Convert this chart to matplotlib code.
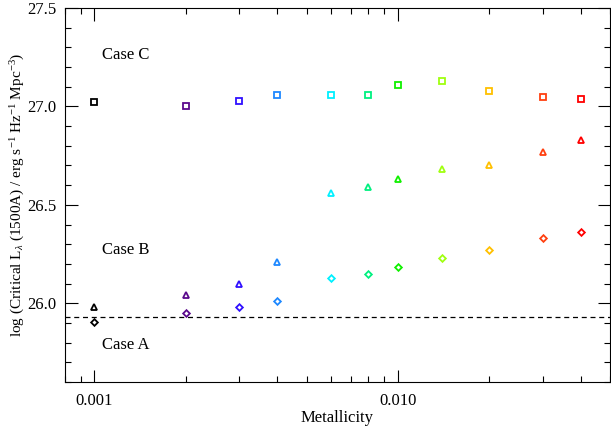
import matplotlib
matplotlib.use("Agg")
import matplotlib.pyplot as plt
from matplotlib.ticker import MultipleLocator, FixedLocator, NullFormatter

metallicity = [0.001, 0.002, 0.003, 0.004, 0.006, 0.008, 0.010, 0.014, 0.020, 0.030, 0.040]
colors = ['#000000', '#5a0a8c', '#3010ff', '#1e88ff', '#00f0ff', '#00f080',
          '#10f000', '#a0ff10', '#ffc000', '#ff4010', '#ff0000']
case_c = [27.02, 27.00, 27.03, 27.06, 27.06, 27.06, 27.11, 27.13, 27.08, 27.05, 27.04]
case_b = [25.98, 26.04, 26.10, 26.21, 26.56, 26.59, 26.63, 26.68, 26.70, 26.77, 26.83]
case_a = [25.905, 25.95, 25.98, 26.01, 26.13, 26.15, 26.185, 26.23, 26.27, 26.33, 26.36]
case_a_limit = 25.93
x_tick_vals = [0.001, 0.010]
x_tick_labels = ['0.001', '0.010']

plt.rcParams['font.family'] = ['Liberation Serif', 'DejaVu Serif']
plt.rcParams['mathtext.fontset'] = 'custom'
plt.rcParams['mathtext.rm'] = 'Liberation Serif'
plt.rcParams['mathtext.it'] = 'Liberation Serif:italic'

fig = plt.figure(figsize=(6.11, 4.30), dpi=100)
ax = fig.add_axes([65/611, 48/430, 545/611, 374/430])

for xv, c, yc, yb, ya in zip(metallicity, colors, case_c, case_b, case_a):
    ax.plot(xv, yc, marker='s', ms=4.8, mfc='none', mec=c, mew=1.3, ls='none')
    ax.plot(xv, yb, marker='^', ms=5.0, mfc='none', mec=c, mew=1.3, ls='none')
    ax.plot(xv, ya, marker='D', ms=3.4, mfc='none', mec=c, mew=1.3, ls='none')

ax.axhline(case_a_limit, color='black', ls=(0, (4, 3)), lw=0.9)

ax.set_xscale('log')
ax.set_xlim(0.0008, 0.05)
ax.set_ylim(25.6, 27.5)

ax.xaxis.set_major_locator(FixedLocator(x_tick_vals))
ax.set_xticklabels(x_tick_labels)
ax.xaxis.set_minor_formatter(NullFormatter())
ax.yaxis.set_major_locator(MultipleLocator(0.5))
ax.yaxis.set_minor_locator(MultipleLocator(0.1))
ax.yaxis.set_major_formatter(matplotlib.ticker.FormatStrFormatter('%.1f'))

ax.tick_params(which='both', direction='in', top=True, right=True, labelsize=12, width=0.8)
ax.tick_params(which='major', length=9)
ax.tick_params(which='minor', length=4.5)
ax.tick_params(axis='x', pad=8)
ax.tick_params(axis='y', pad=6)
for s in ax.spines.values():
    s.set_linewidth(0.8)

ax.text(0.00106, 27.26, 'Case C', fontsize=12, va='center', ha='left')
ax.text(0.00106, 26.27, 'Case B', fontsize=12, va='center', ha='left')
ax.text(0.00106, 25.79, 'Case A', fontsize=12, va='center', ha='left')

ax.set_xlabel('Metallicity', fontsize=12, labelpad=1)
ax.set_ylabel(r'log (Critical L$_\lambda$ (1500A) / erg s$^{-1}$ Hz$^{-1}$ Mpc$^{-3}$)', fontsize=11)
ax.yaxis.set_label_coords(-(65 - 27) / 545, 0.5)

fig.savefig('out.png', dpi=100)
